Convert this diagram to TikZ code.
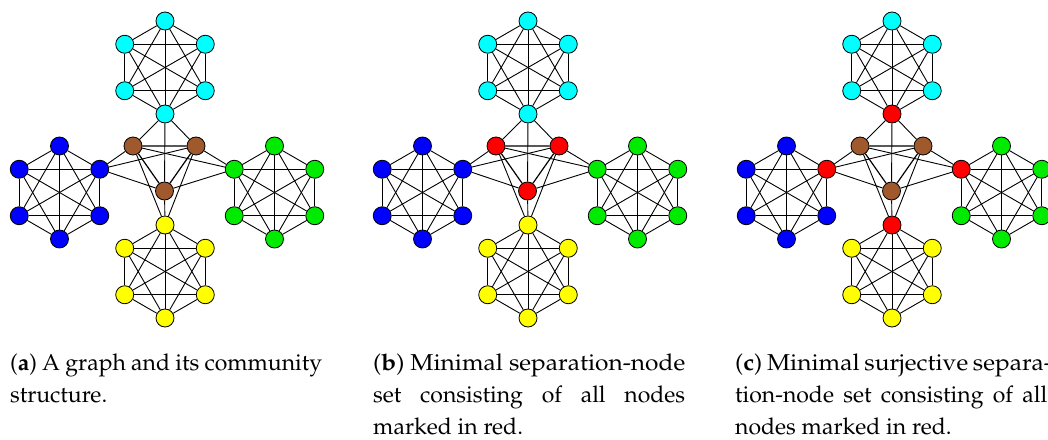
\documentclass[tikz,border=0pt]{standalone}
\usepackage[T1]{fontenc}
\usepackage{mathpazo}
\usetikzlibrary{calc}

\definecolor{nodecyan}{RGB}{0,255,255}
\definecolor{nodeblue}{RGB}{0,0,255}
\definecolor{nodegreen}{RGB}{0,235,0}
\definecolor{nodeyellow}{RGB}{255,255,0}
\definecolor{nodebrown}{RGB}{160,88,45}
\definecolor{nodered}{RGB}{255,0,0}

\newcommand{\capline}[1]{\makebox[312pt][s]{#1}}
\newcommand{\caphead}[1]{\scalebox{1.065}[1]{\makebox[293pt][s]{#1}}}

\begin{document}
\begin{tikzpicture}[x=1pt,y=1pt]
\tikzset{vx/.style = {draw, shape=circle, minimum size=18pt, inner sep=0pt, line width=0.8pt},
         ed/.style = {line width=0.9pt},
         capt/.style = {anchor=base west, align=left, inner sep=0pt,
                        font=\fontsize{23}{32}\selectfont}}
\useasboundingbox (0,0) rectangle (1048,439);

% three copies of the graph: a, b, c
\foreach \p/\dx/\hubred/\mc in {a/0/0/nodebrown, b/363/0/nodered, c/727/1/nodebrown}{
\begin{scope}[xshift=\dx]
% the four cliques, hub = vertex joined to the middle
\foreach \c/\cx/\cy/\col/\h in {cy/165/371.5/nodecyan/4, bl/59.5/246.5/nodeblue/2,
                                gr/274.5/246.5/nodegreen/6, ye/165/167.5/nodeyellow/1}{
  \foreach \i in {1,...,6}{
    \def\fc{\col}
    \ifnum\i=\h \ifnum\hubred=1 \def\fc{nodered}\fi\fi
    \node [vx, fill=\fc] (\p-\c-\i) at ($(\cx,\cy)+({150-60*\i}:46.5)$) {};
  }
  \foreach \i in {1,...,6}{
    \foreach \j in {\i,...,6}{
      \ifnum\i<\j \draw [ed] (\p-\c-\i) -- (\p-\c-\j);\fi
    }
  }
}
% middle triangle
\node [vx, fill=\mc] (\p-m1) at (133,293) {};
\node [vx, fill=\mc] (\p-m2) at (196,293) {};
\node [vx, fill=\mc] (\p-m3) at (164.5,248) {};
\draw [line width=1.2pt] (\p-m1) -- (\p-m2) -- (\p-m3) -- (\p-m1);
\foreach \m in {1,2,3}{
  \foreach \c/\h in {cy/4, bl/2, gr/6, ye/1}{
    \draw [ed] (\p-m\m) -- (\p-\c-\h);
  }
}
\end{scope}
}

% captions (base = baseline of the last line)
\node [capt] (capa) at (10,37) {\capline{(\textbf{a}) A graph and its community}\\structure.};
\node [capt] (capb) at (373,5) {\caphead{(\textbf{b}) Minimal separation-node}\\
  \capline{set consisting of all nodes}\\marked in red.};
\node [capt] (capc) at (735,5) {\caphead{(\textbf{c}) Minimal surjective separa-}\\
  \capline{tion-node set consisting of all}\\nodes marked in red.};
\end{tikzpicture}
\end{document}
